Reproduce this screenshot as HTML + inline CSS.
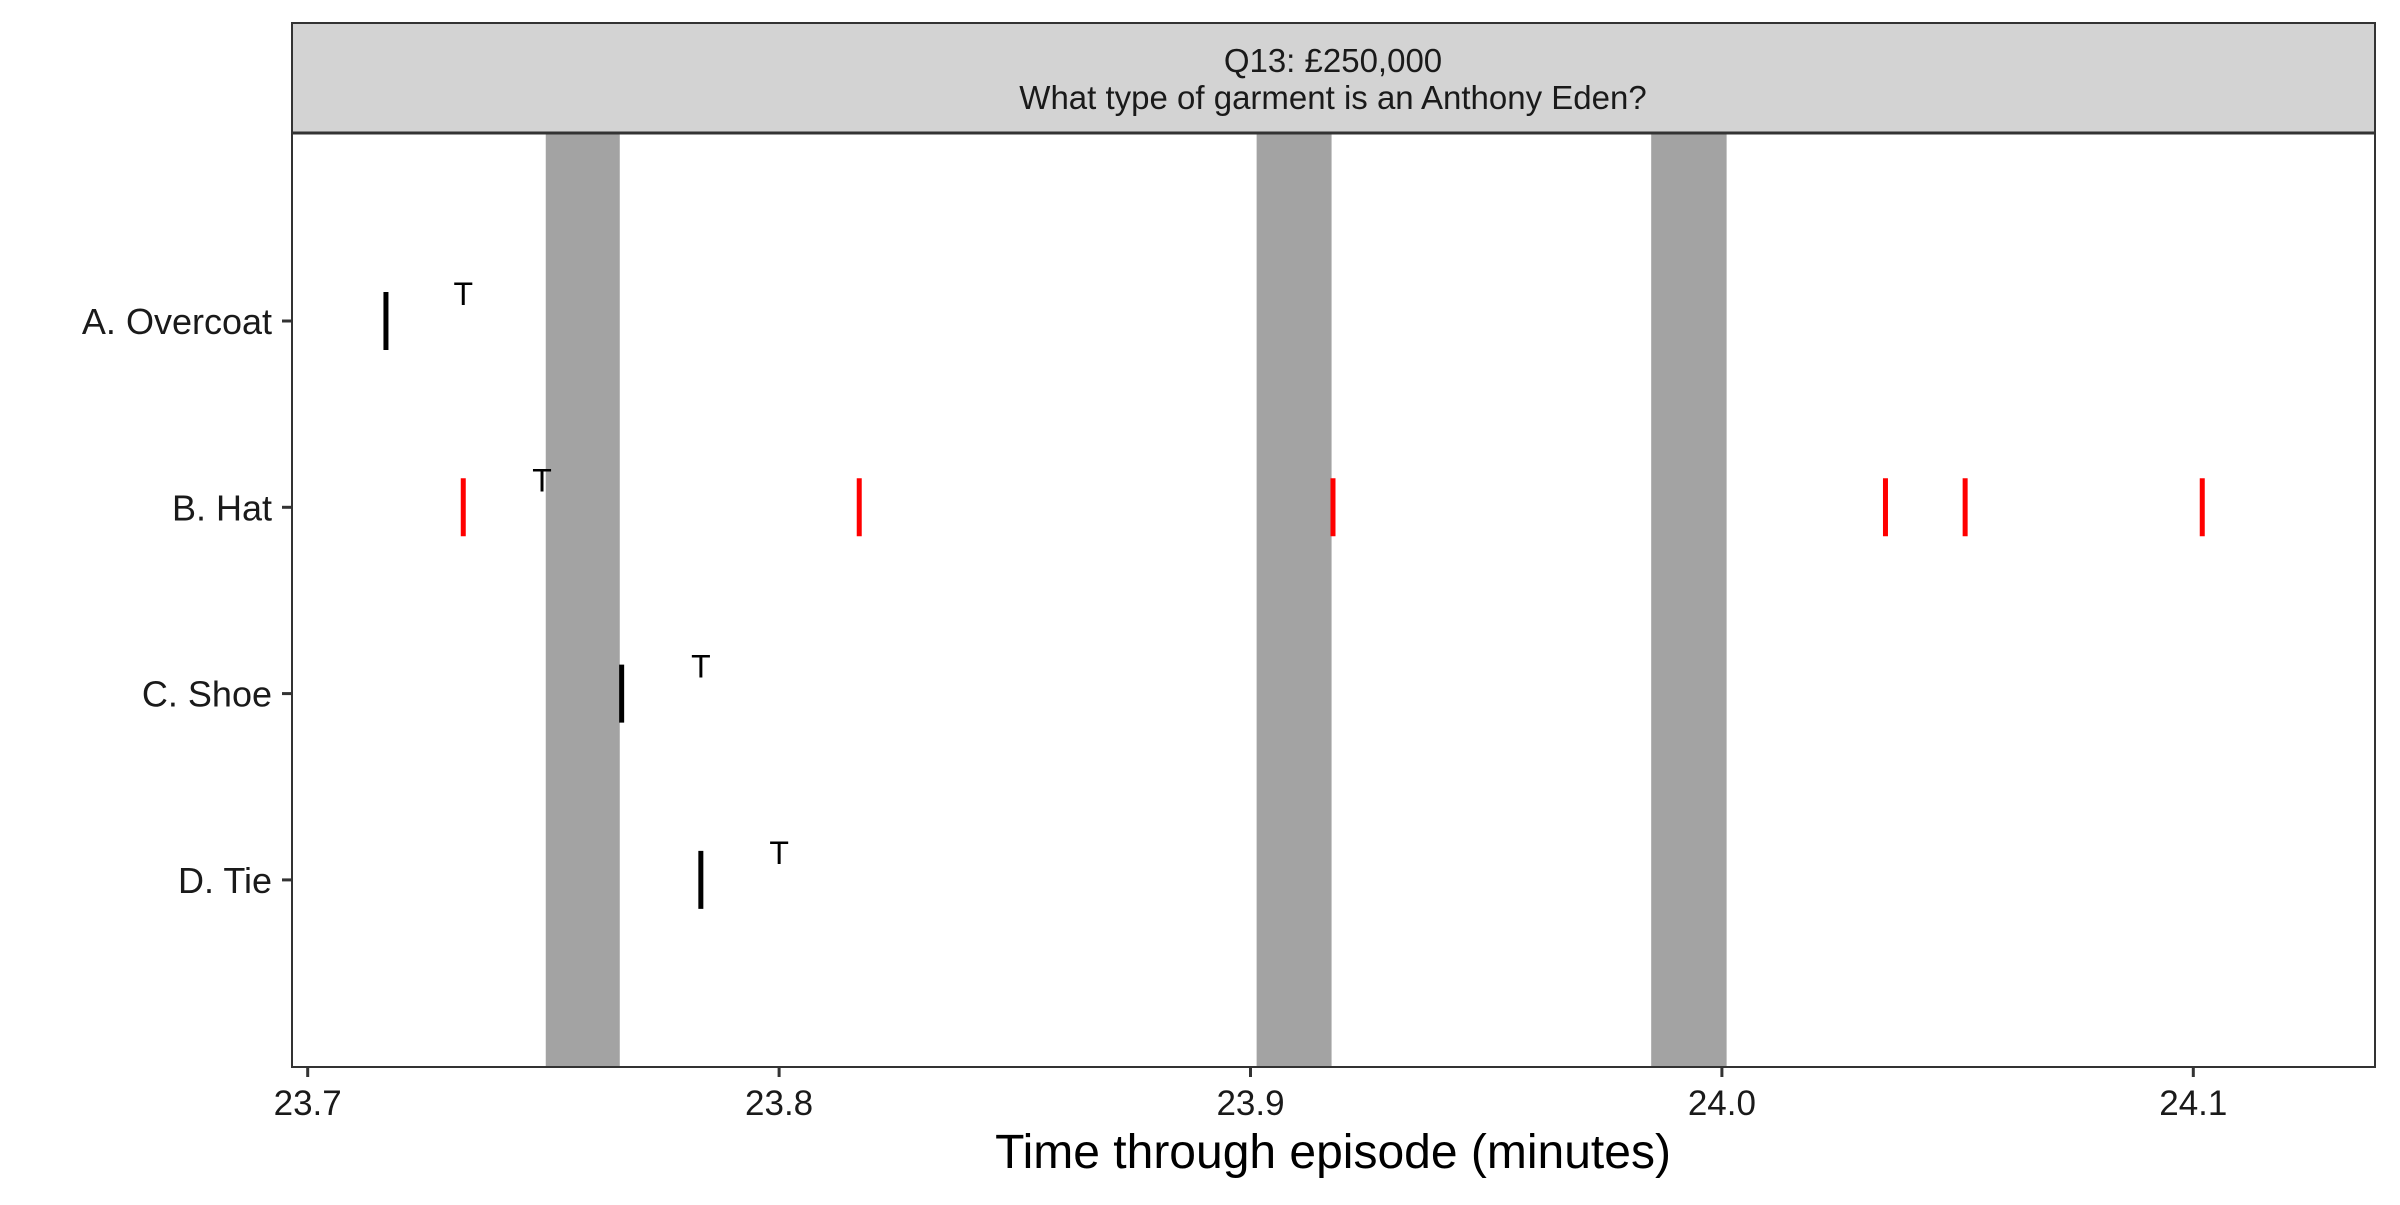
<!DOCTYPE html>
<html><head><meta charset="utf-8"><style>body{margin:0;background:#fff}svg text{font-family:"Liberation Sans",sans-serif}</style></head>
<body>
<svg id="chart" width="2400" height="1200" xmlns="http://www.w3.org/2000/svg">
<rect width="2400" height="1200" fill="#fff"/>
<g id="bands"></g>
<g id="marks"></g>
<rect x="292" y="23" width="2083" height="110" fill="#d3d3d3" stroke="#333" stroke-width="2"/>
<line x1="292" y1="133" x2="2375" y2="133" stroke="#333" stroke-width="3"/>
<text x="1333" y="72" font-size="33" text-anchor="middle" fill="#1a1a1a">Q13: £250,000</text>
<text x="1333" y="109" font-size="33" text-anchor="middle" fill="#1a1a1a">What type of garment is an Anthony Eden?</text>
<rect x="292" y="133" width="2083" height="934" fill="none" stroke="#333" stroke-width="2"/>
<g id="axes"></g>
<text x="1333" y="1168" font-size="48" text-anchor="middle" fill="#000">Time through episode (minutes)</text>
</svg>
<script>
const categories = ["A. Overcoat","B. Hat","C. Shoe","D. Tie"];
const xTicks = [23.7,23.8,23.9,24.0,24.1];
const xTickLabels = ["23.7","23.8","23.9","24.0","24.1"];
const bandStarts = [23.7505,23.9013,23.985];
const bandEnds = [23.7662,23.9172,24.001];
const markCats = ["A. Overcoat","B. Hat","B. Hat","B. Hat","B. Hat","B. Hat","B. Hat","C. Shoe","D. Tie"];
const markTimes = [23.7166,23.733,23.817,23.9175,24.0347,24.0516,24.1019,23.7666,23.7834];
const markCorrect = [false,true,true,true,true,true,true,false,false];
const tCats = ["A. Overcoat","B. Hat","C. Shoe","D. Tie"];
const tTimes = [23.733,23.7497,23.7834,23.80];

const NS="http://www.w3.org/2000/svg";
const x = v => 307.7 + (v-23.7)*4714;
const y = c => 321 + categories.indexOf(c)*186.3;
function mk(tag, attrs, parent){const e=document.createElementNS(NS,tag);for(const k in attrs)e.setAttribute(k,attrs[k]);document.getElementById(parent).appendChild(e);return e;}
bandStarts.forEach((s,i)=>{
  const r=mk('rect',{x:x(s),y:134,width:x(bandEnds[i])-x(s),height:932,fill:'#a3a3a3'},'bands');
  
  
});
markTimes.forEach((t,i)=>{
  const l=mk('line',{x1:x(t),x2:x(t),y1:y(markCats[i])-29,y2:y(markCats[i])+29,stroke:markCorrect[i]?'#ff0000':'#000','stroke-width':5},'marks');
  
  
});
tTimes.forEach((t,i)=>{
  const tx=mk('text',{x:x(t),y:y(tCats[i])-16,'font-size':32,'text-anchor':'middle',fill:'#000'},'marks');
  tx.textContent='T';
  
  
});
categories.forEach(c=>{
  const tk=mk('line',{x1:282,x2:292,y1:y(c),y2:y(c),stroke:'#333','stroke-width':3},'axes');
  
  
  const lb=mk('text',{x:272,y:y(c)+13,'font-size':36,'text-anchor':'end',fill:'#1a1a1a'},'axes');
  lb.textContent=c;
  
  
});
xTicks.forEach((v,i)=>{
  const tk=mk('line',{x1:x(v),x2:x(v),y1:1067,y2:1077,stroke:'#333','stroke-width':3},'axes');
  
  
  const lb=mk('text',{x:x(v),y:1115,'font-size':35,'text-anchor':'middle',fill:'#1a1a1a'},'axes');
  lb.textContent=xTickLabels[i];
  
  
});
</script>
</body></html>
